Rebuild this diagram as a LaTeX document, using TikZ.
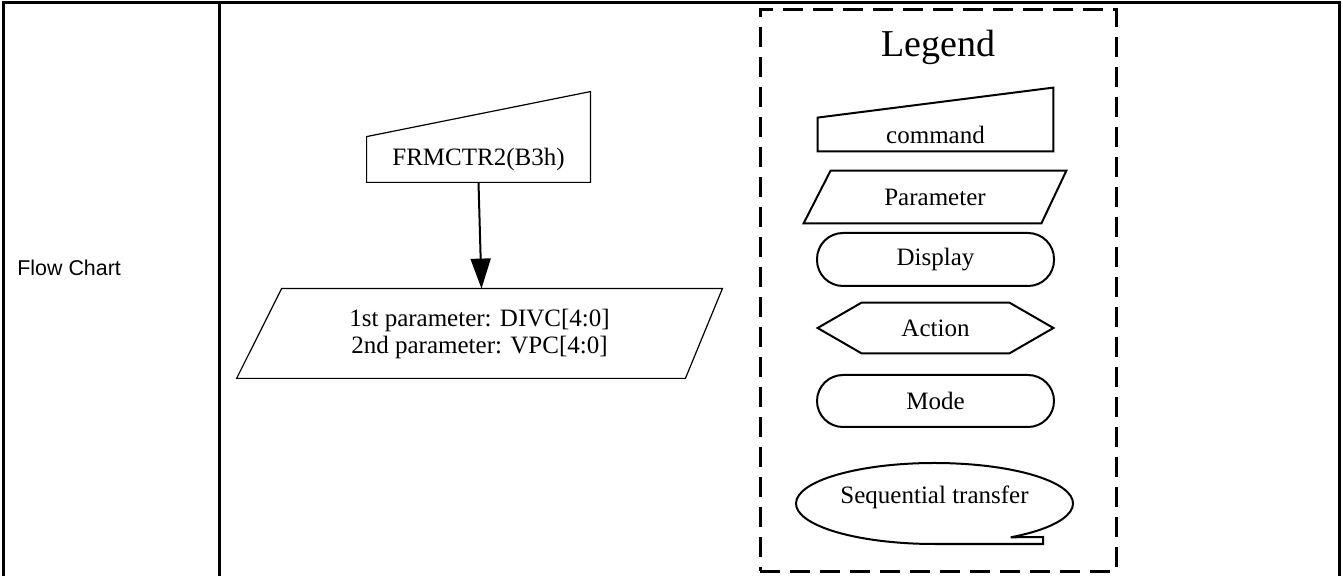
\documentclass[tikz,border=0pt]{standalone}
\usepackage{fontspec}
\setmainfont{Liberation Serif}
\newfontfamily\arialfont{Liberation Sans}
\usetikzlibrary{positioning,arrows.meta,calc}

\begin{document}
\begin{tikzpicture}[
  x=0.5pt, y=-0.5pt,
  font=\fontsize{12.5}{13.5}\selectfont,
  grid/.style={line width=1.5pt},
  area/.style={inner sep=0pt, align=center, minimum width=#1},
  area/.default=100pt,
  shp/.style={line width=0.6pt},
  leg/.style={line width=1pt},
  pill/.style={draw, line width=1pt, rounded corners=13pt, inner sep=0pt, minimum width=118.5pt, minimum height=26.5pt},
  arr/.style={-{Triangle[length=15pt,width=10pt]}, line width=1pt},
  legbox/.style={draw, line width=1.5pt, dash pattern=on 10pt off 5pt, inner sep=0pt},
]
\useasboundingbox (0,0) rectangle (1343,576);

% Table frame
\draw[grid] (3,576) -- (3,3) -- (1339,3) -- (1339,576);
\draw[grid] (219,3) -- (219,576);
\node[anchor=west, inner sep=0pt, font=\arialfont\fontsize{10.7}{12}\selectfont] (flow) at (17,268) {Flow Chart};

% Command and its parameters
\node[area=111.5pt, minimum height=22.5pt] (cmd) at (478.5,159.5) {FRMCTR2(B3h)};
\draw[shp] (cmd.south west) -- (cmd.north west) -- ($(cmd.north east)+(0,-45)$) -- (cmd.south east) -- cycle;

\node[area=242.5pt, minimum height=44.5pt] (par) at (479.5,333.5) {1st parameter: DIVC[4:0]\\2nd parameter: VPC[4:0]};
\draw[shp] (par.south west) -- ($(par.north west)+(45,0)$) -- (par.north east) -- ($(par.south east)+(-37,0)$) -- cycle;

\draw[arr] (cmd.south) -- ($(par.north)+(2,0)$);

% Legend
\node[legbox, minimum width=178pt, minimum height=280.5pt] (legbox) at (938,290.5) {};
\node[font=\fontsize{19}{21}\selectfont] (legtitle) at (938.5,47) {Legend};

\node[area=117.5pt, minimum height=16.5pt] (lgcmd) at (935.5,134.5) {command};
\draw[leg] (lgcmd.south west) -- (lgcmd.north west) -- ($(lgcmd.north east)+(0,-30)$) -- (lgcmd.south east) -- cycle;

\node[area=131pt, minimum height=26pt] (lgpar) at (935,197) {Parameter};
\draw[leg] (lgpar.south west) -- ($(lgpar.north west)+(27,0)$) -- (lgpar.north east) -- ($(lgpar.south east)+(-25,0)$) -- cycle;

\node[pill] (lgdisp) at (935.5,259.5) {Display};

\node[area=117.5pt, minimum height=25pt] (lgact) at (935.5,328) {Action};
\draw[leg] (lgact.west) -- ($(lgact.north west)+(44,0)$) -- ($(lgact.north east)+(-44,0)$)
  -- (lgact.east) -- ($(lgact.south east)+(-44,0)$) -- ($(lgact.south west)+(44,0)$) -- cycle;

\node[pill, minimum height=26pt] (lgmode) at (935.5,401) {Mode};

% tape symbol: ellipse with a tail at the bottom right
\node[inner sep=0pt] (lgseq) at (934.5,497) {Sequential transfer};
\draw[leg] ($(lgseq.center)+(0,6.5)+(56.6:138.5 and 40.5)$)
  arc[start angle=56.6, end angle=-270, x radius=138.5, y radius=40.5]
  -- ++(108.5,0) -- ++(0,-7) -- cycle;
\end{tikzpicture}
\end{document}
